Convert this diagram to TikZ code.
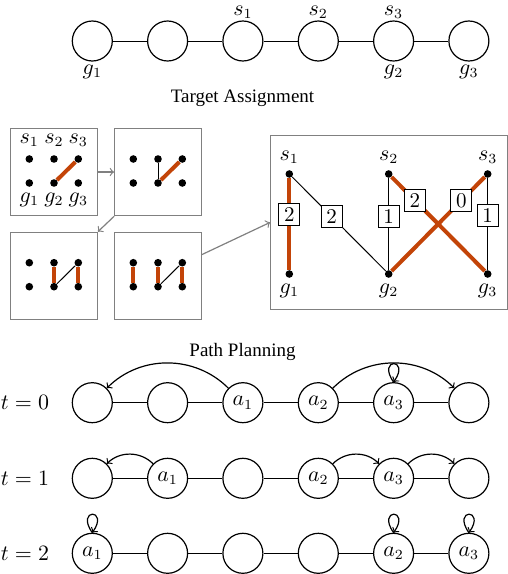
\documentclass[tikz,border=0pt]{standalone}
\usepackage{fontspec}
\newfontfamily\titlefont{Liberation Serif}
\definecolor{assign}{RGB}{195,68,8}
\definecolor{frame}{RGB}{128,128,128}
\begin{document}
\begin{tikzpicture}[x=0.5pt,y=0.5pt,
  cell/.style={circle, draw, minimum size=20pt, inner sep=0pt, line width=0.6pt, font=\fontsize{10.5}{12}\selectfont},
  lbl/.style={font=\fontsize{10.5}{12}\selectfont, inner sep=0pt},
  ttl/.style={font=\titlefont\fontsize{9.5}{11}\selectfont, inner sep=0pt},
  frm/.style={draw=frame, line width=0.6pt, minimum width=43.3pt, minimum height=43.7pt, inner sep=0pt},
  dot/.style={circle, fill, inner sep=0pt, minimum size=3.8pt},
  sel/.style={assign, line width=2pt},
  link/.style={line width=0.5pt},
  cost/.style={draw, fill=white, inner sep=0pt, line width=0.5pt, minimum width=10.5pt, minimum height=11pt, font=\fontsize{10.5}{12}\selectfont},
  flow/.style={->, draw=frame, line width=0.6pt},
  move/.style={->, line width=0.6pt}]
\useasboundingbox (0,0) rectangle (508,-574);

% ---------- top row ----------
\node[cell] (T1) at (92.3,-41) {};
\node[cell] (T2) at (167.6,-41) {};
\node[cell] (T3) at (242.9,-41) {};
\node[cell] (T4) at (318.3,-41) {};
\node[cell] (T5) at (393.6,-41) {};
\node[cell] (T6) at (468.9,-41) {};
\node[lbl] (ts1) at (242.9,-12) {$s_1$};
\node[lbl] (ts2) at (318.3,-12) {$s_2$};
\node[lbl] (ts3) at (393.6,-12) {$s_3$};
\node[lbl] (tg1) at (92.3,-72) {$g_1$};
\node[lbl] (tg2) at (393.6,-72) {$g_2$};
\node[lbl] (tg3) at (468.9,-72) {$g_3$};
\node[ttl] (title1) at (242.5,-98) {Target Assignment};

% ---------- small boxes ----------
\node[frm] (B1) at (54,-172) {};
\node[frm] (B2) at (158,-172) {};
\node[frm] (B3) at (54,-276) {};
\node[frm] (B4) at (158,-276) {};
\node[frm, minimum width=118.3pt, minimum height=86.7pt] (BB) at (389,-222.4) {};

% box 1
\node[dot] (a1s1) at (29.3,-159) {};
\node[dot] (a1s2) at (54,-159) {};
\node[dot] (a1s3) at (78.3,-159) {};
\node[dot] (a1g1) at (29.3,-183) {};
\node[dot] (a1g2) at (54,-183) {};
\node[dot] (a1g3) at (78.3,-183) {};
\node[lbl] (a1ls1) at (29.3,-140) {$s_1$};
\node[lbl] (a1ls2) at (54,-140) {$s_2$};
\node[lbl] (a1ls3) at (78.3,-140) {$s_3$};
\node[lbl] (a1lg1) at (29.3,-200) {$g_1$};
\node[lbl] (a1lg2) at (54,-200) {$g_2$};
\node[lbl] (a1lg3) at (78.3,-200) {$g_3$};
\draw[sel] (a1g2) -- (a1s3);

% box 2
\node[dot] (a2s1) at (133.3,-159) {};
\node[dot] (a2s2) at (158,-159) {};
\node[dot] (a2s3) at (182.3,-159) {};
\node[dot] (a2g1) at (133.3,-183) {};
\node[dot] (a2g2) at (158,-183) {};
\node[dot] (a2g3) at (182.3,-183) {};
\draw[link] (a2s2) -- (a2g2);
\draw[sel] (a2g2) -- (a2s3);

% box 3
\node[dot] (a3s1) at (29.3,-262.7) {};
\node[dot] (a3s2) at (54,-262.7) {};
\node[dot] (a3s3) at (78.3,-262.7) {};
\node[dot] (a3g1) at (29.3,-286.7) {};
\node[dot] (a3g2) at (54,-286.7) {};
\node[dot] (a3g3) at (78.3,-286.7) {};
\draw[sel] (a3s2) -- (a3g2);
\draw[sel] (a3s3) -- (a3g3);
\draw[link] (a3g2) -- (a3s3);

% box 4
\node[dot] (a4s1) at (133.3,-262.7) {};
\node[dot] (a4s2) at (158,-262.7) {};
\node[dot] (a4s3) at (182.3,-262.7) {};
\node[dot] (a4g1) at (133.3,-286.7) {};
\node[dot] (a4g2) at (158,-286.7) {};
\node[dot] (a4g3) at (182.3,-286.7) {};
\draw[sel] (a4s1) -- (a4g1);
\draw[sel] (a4s2) -- (a4g2);
\draw[sel] (a4s3) -- (a4g3);
\draw[link] (a4g2) -- (a4s3);

\draw[flow] (B1.east) -- (B2.west);
\draw[flow] (B2.south west) -- (B3.north east);
\draw[flow] (B4.26) -- (BB.west);

% big box
\node[dot] (S1) at (289.3,-174) {};
\node[dot] (S2) at (388.7,-174) {};
\node[dot] (S3) at (487.7,-174) {};
\node[dot] (G1) at (289.3,-274) {};
\node[dot] (G2) at (388.7,-274) {};
\node[dot] (G3) at (487.7,-274) {};
\node[lbl] (lS1) at (289.3,-157.3) {$s_1$};
\node[lbl] (lS2) at (388.7,-157.3) {$s_2$};
\node[lbl] (lS3) at (487.7,-157.3) {$s_3$};
\node[lbl] (lG1) at (289.3,-290.7) {$g_1$};
\node[lbl] (lG2) at (388.7,-290.7) {$g_2$};
\node[lbl] (lG3) at (487.7,-290.7) {$g_3$};
\draw[link] (S1) -- (G2);
\draw[link] (S2) -- (G2);
\draw[link] (S3) -- (G3);
\draw[sel] (S1) -- (G1);
\draw[sel] (S2) -- (G3);
\draw[sel] (S3) -- (G2);
\path (S1) -- node[cost, pos=0.4] (c11) {2} (G1);
\path (S1) -- node[cost, pos=0.42] (c12) {2} (G2);
\path (S2) -- node[cost, pos=0.42] (c22) {1} (G2);
\path (S2) -- node[cost, pos=0.25] (c23) {2} (G3);
\path (S3) -- node[cost, pos=0.25] (c32) {0} (G2);
\path (S3) -- node[cost, pos=0.41] (c33) {1} (G3);

% ---------- path planning ----------
\node[ttl] (title2) at (242.5,-351.7) {Path Planning};

\node[lbl] (t0) at (25,-402.7) {$t=0$};
\node[cell] (P1) at (92.3,-402.7) {};
\node[cell] (P2) at (167.6,-402.7) {};
\node[cell] (P3) at (242.9,-402.7) {$a_1$};
\node[cell] (P4) at (318.3,-402.7) {$a_2$};
\node[cell] (P5) at (393.6,-402.7) {$a_3$};
\node[cell] (P6) at (468.9,-402.7) {};

\node[lbl] (t1) at (25,-478.3) {$t=1$};
\node[cell] (Q1) at (92.3,-478.3) {};
\node[cell] (Q2) at (167.6,-478.3) {$a_1$};
\node[cell] (Q3) at (242.9,-478.3) {};
\node[cell] (Q4) at (318.3,-478.3) {$a_2$};
\node[cell] (Q5) at (393.6,-478.3) {$a_3$};
\node[cell] (Q6) at (468.9,-478.3) {};

\node[lbl] (t2) at (25,-553.3) {$t=2$};
\node[cell] (R1) at (92.3,-553.3) {$a_1$};
\node[cell] (R2) at (167.6,-553.3) {};
\node[cell] (R3) at (242.9,-553.3) {};
\node[cell] (R4) at (318.3,-553.3) {};
\node[cell] (R5) at (393.6,-553.3) {$a_2$};
\node[cell] (R6) at (468.9,-553.3) {$a_3$};

\foreach \r in {T,P,Q,R} {
  \foreach \i/\j in {1/2,2/3,3/4,4/5,5/6} {
    \draw[link] (\r\i) -- (\r\j);
  }
}

\draw[move] (P3.135) to[out=135,in=45] (P1.45);
\draw[move] (P4.45) to[out=45,in=135] (P6.135);
\draw[move] (P5.north) .. controls +(125:15pt) and +(55:15pt) .. (P5.north);

\draw[move] (Q2.135) to[out=135,in=45] (Q1.45);
\draw[move] (Q4.45) to[out=45,in=135] (Q5.135);
\draw[move] (Q5.45) to[out=45,in=135] (Q6.135);

\draw[move] (R1.north) .. controls +(125:15pt) and +(55:15pt) .. (R1.north);
\draw[move] (R5.north) .. controls +(125:15pt) and +(55:15pt) .. (R5.north);
\draw[move] (R6.north) .. controls +(125:15pt) and +(55:15pt) .. (R6.north);
\end{tikzpicture}
\end{document}
